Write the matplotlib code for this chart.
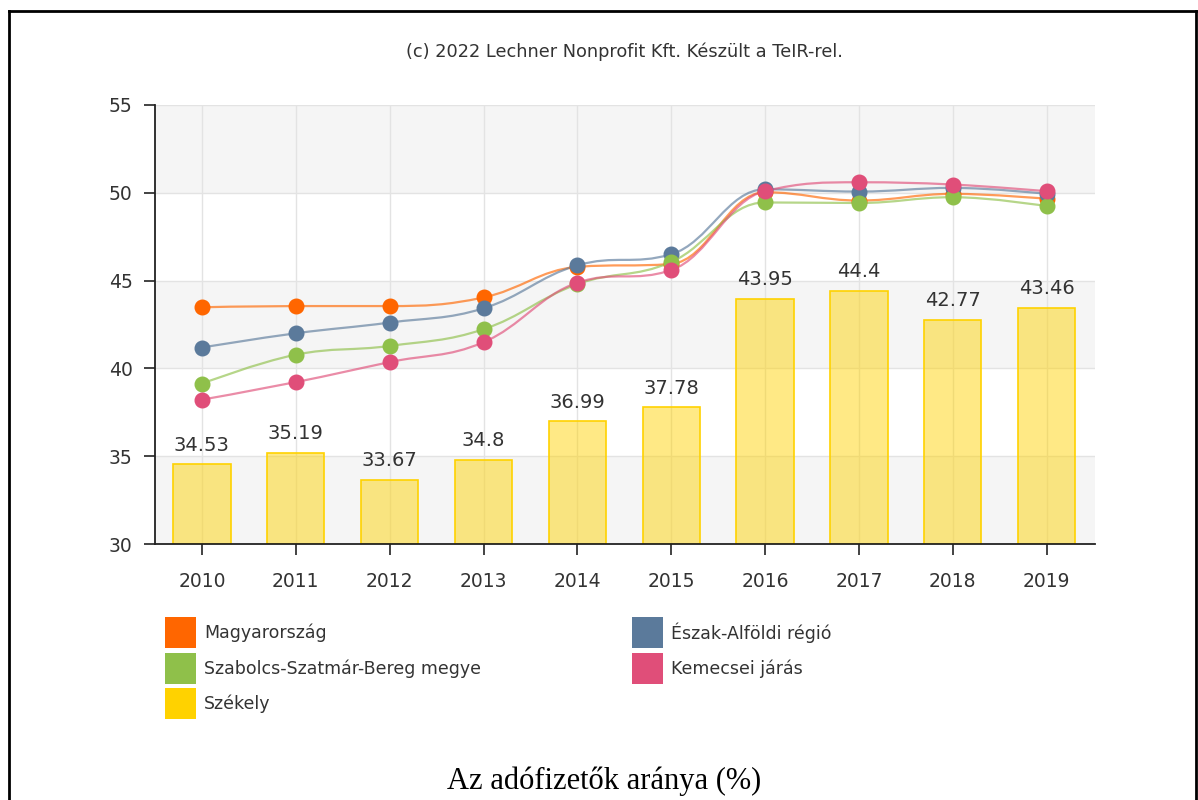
import matplotlib
matplotlib.use("Agg")
import matplotlib.pyplot as plt
from matplotlib.path import Path
from matplotlib.patches import PathPatch, Rectangle
from matplotlib.lines import Line2D

# data
years = [2010, 2011, 2012, 2013, 2014, 2015, 2016, 2017, 2018, 2019]
szekely = [34.53, 35.19, 33.67, 34.8, 36.99, 37.78, 43.95, 44.4, 42.77, 43.46]
magyarorszag = [43.48, 43.55, 43.55, 44.04, 45.78, 45.95, 50.03, 49.56, 49.94, 49.66]
eszak_alfold = [41.19, 42.0, 42.61, 43.42, 45.87, 46.5, 50.2, 50.07, 50.28, 49.94]
szabolcs = [39.13, 40.78, 41.28, 42.23, 44.8, 46.06, 49.45, 49.42, 49.75, 49.24]
kemecsei = [38.22, 39.22, 40.36, 41.49, 44.88, 45.6, 50.1, 50.6, 50.47, 50.09]

line_series = [
    ("Magyarország", magyarorszag, "#FF6600"),
    ("Észak-Alföldi régió", eszak_alfold, "#5B7A9B"),
    ("Szabolcs-Szatmár-Bereg megye", szabolcs, "#8FC04A"),
    ("Kemecsei járás", kemecsei, "#E04E79"),
]
bar_name = "Székely"
bar_color = "#FFD200"

W, H = 1198, 800


def fx(px):
    return px / W


def fy(py):
    return 1 - py / H


def spline_path(xs, ys, smoothing=1.5):
    # bezier spline in the style of highcharts' "spline" series
    n = len(xs)
    denom = smoothing + 1
    left = [None] * n
    right = [None] * n
    for i in range(1, n - 1):
        lx, ly = xs[i - 1], ys[i - 1]
        px, py = xs[i], ys[i]
        nx, ny = xs[i + 1], ys[i + 1]
        lcx = (smoothing * px + lx) / denom
        lcy = (smoothing * py + ly) / denom
        rcx = (smoothing * px + nx) / denom
        rcy = (smoothing * py + ny) / denom
        corr = ((rcy - lcy) * (rcx - px)) / (rcx - lcx) + py - rcy
        lcy += corr
        rcy += corr
        if lcy > ly and lcy > py:
            lcy = max(ly, py)
            rcy = 2 * py - lcy
        elif lcy < ly and lcy < py:
            lcy = min(ly, py)
            rcy = 2 * py - lcy
        if rcy > ny and rcy > py:
            rcy = max(ny, py)
            lcy = 2 * py - rcy
        elif rcy < ny and rcy < py:
            rcy = min(ny, py)
            lcy = 2 * py - rcy
        left[i] = (lcx, lcy)
        right[i] = (rcx, rcy)
    verts = [(xs[0], ys[0])]
    codes = [Path.MOVETO]
    for i in range(1, n):
        c1 = right[i - 1] or (xs[i - 1], ys[i - 1])
        c2 = left[i] or (xs[i], ys[i])
        verts += [c1, c2, (xs[i], ys[i])]
        codes += [Path.CURVE4] * 3
    return Path(verts, codes)


fig = plt.figure(figsize=(W / 100, H / 100), dpi=100)
ax = fig.add_axes([fx(155), fy(544), fx(1095) - fx(155), fy(105) - fy(544)])

x = list(range(len(years)))
ax.set_xlim(-0.5, 9.515)
ax.set_ylim(30, 55)

# alternating bands
for lo in (30, 40, 50):
    ax.axhspan(lo, lo + 5, color="#F5F5F5", zorder=0, lw=0)
ax.grid(True, color="#E3E3E3", lw=1, zorder=1)
ax.set_axisbelow(True)

ax.bar(x, [v - 30 for v in szekely], bottom=30, width=0.61,
       facecolor=bar_color, alpha=0.48, edgecolor="none", zorder=2)
ax.bar(x, [v - 30 for v in szekely], bottom=30, width=0.61,
       facecolor="none", edgecolor=bar_color, lw=1.2, zorder=2)
for xi, v in zip(x, szekely):
    ax.annotate(f"{v:g}", (xi, v), xytext=(0, 7), textcoords="offset points",
                ha="center", va="bottom", fontsize=14, color="#333333")

for name, vals, col in line_series:
    ax.add_patch(PathPatch(spline_path(x, vals), fill=False, edgecolor=col,
                           lw=1.6, alpha=0.65, zorder=3))
    ax.plot(x, vals, ls="none", marker="o", ms=10.5, color=col, zorder=4)

ax.set_xticks(x)
ax.set_xticklabels([str(y) for y in years])
ax.set_yticks([30, 35, 40, 45, 50, 55])
for s in ("top", "right"):
    ax.spines[s].set_visible(False)
for s in ("left", "bottom"):
    ax.spines[s].set_color("#222222")
    ax.spines[s].set_linewidth(1.3)
ax.tick_params(axis="y", length=8, width=1.2, pad=8, labelsize=13.5,
               labelcolor="#333333", color="#222222")
ax.tick_params(axis="x", length=8, width=1.2, pad=12, labelsize=13.5,
               labelcolor="#333333", color="#222222")

# caption
fig.text(fx(624), fy(52), "(c) 2022 Lechner Nonprofit Kft. Készült a TeIR-rel.",
         ha="center", va="center", fontsize=12.8, color="#333333")

# legend, row-major like the original
legend_items = [
    (line_series[0][0], line_series[0][2], 165, 617),
    (line_series[1][0], line_series[1][2], 632, 617),
    (line_series[2][0], line_series[2][2], 165, 653),
    (line_series[3][0], line_series[3][2], 632, 653),
    (bar_name, bar_color, 165, 688),
]
for name, col, lx, ly in legend_items:
    fig.add_artist(Rectangle((fx(lx), fy(ly + 31)), fx(31), 31 / H,
                             transform=fig.transFigure, facecolor=col,
                             edgecolor="none"))
    fig.text(fx(lx + 39), fy(ly + 16), name, ha="left", va="center",
             fontsize=12.5, color="#333333")

fig.text(fx(604), fy(781), "Az adófizetők aránya (%)", ha="center",
         va="center", fontsize=22, family="Liberation Serif", color="black")

# frame around the picture
for xs_, ys_ in (([9, 9], [800, 11]), ([9, 1196], [11, 11]), ([1196, 1196], [11, 800])):
    fig.add_artist(Line2D([fx(v) for v in xs_], [fy(v) for v in ys_],
                          transform=fig.transFigure, color="black", lw=2))

fig.savefig("out.png", dpi=100)
